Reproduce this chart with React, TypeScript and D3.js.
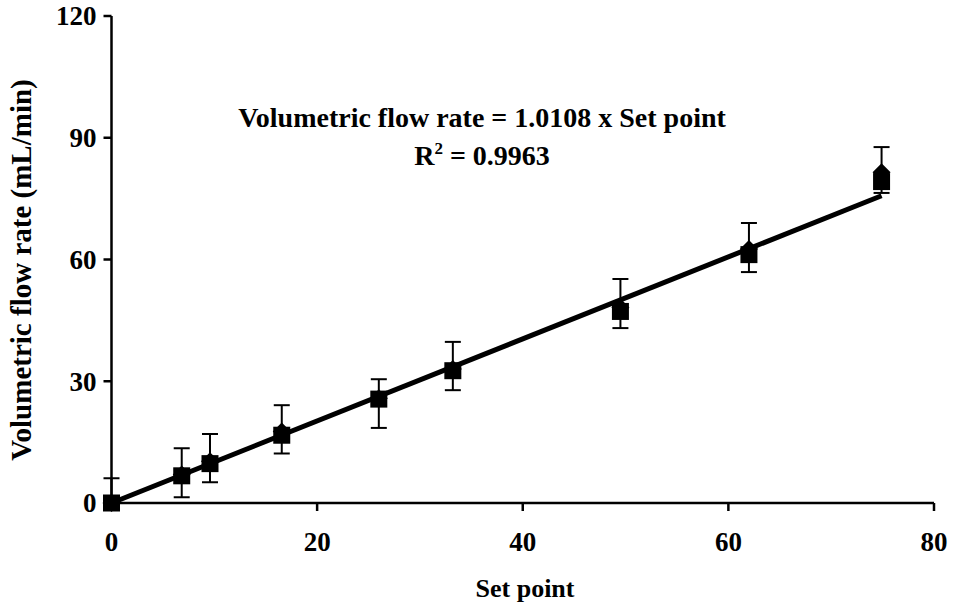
import React from "react";
import * as d3 from "d3";

const setPoints = [0, 6.83, 9.58, 16.56, 26.0, 33.2, 49.5, 62.0, 74.9];
const squareValues = [0, 6.7, 9.7, 16.7, 25.6, 32.6, 47.2, 61.2, 79.2];
const diamondValues = [0, 7.0, 10.3, 17.6, 25.8, 33.0, 48.2, 62.6, 81.5];
const errTop = [6.1, 13.5, 17.0, 24.1, 30.5, 39.7, 55.2, 69.0, 87.7];
const errBottom = [-6, 1.4, 5.1, 12.2, 18.5, 27.8, 43.1, 56.9, 76.4];
const slope = 1.0108;
const xTicks = [0, 20, 40, 60, 80];
const yTicks = [0, 30, 60, 90, 120];
const xTitle = "Set point";
const yTitle = "Volumetric flow rate (mL/min)";
const eqLine = "Volumetric flow rate = 1.0108 x Set point";
const r2Text = "0.9963";

const W = 953;
const H = 608;
const left = 111.5;
const right = 934;
const top = 16;
const bottom = 503;
const FONT = "'Liberation Serif', 'Times New Roman', serif";

export default function App() {
  const x = d3.scaleLinear().domain([0, 80]).range([left, right]);
  const y = d3.scaleLinear().domain([0, 120]).range([bottom, top]);
  const xMax = d3.max(setPoints) as number;
  const trend = d3.line<number>().x((d) => x(d)).y((d) => y(d * slope));
  const sq = 17;
  const dd = 9;
  const diamond = (cx: number, cy: number) =>
    `M${cx},${cy - dd}L${cx + dd},${cy}L${cx},${cy + dd}L${cx - dd},${cy}Z`;
  const cap = 8;

  return (
    <svg
      width={W}
      height={H}
      style={{ position: "absolute", left: 0, top: 0, background: "#fff" }}
      fontFamily={FONT}
      fontWeight="bold"
    >
      <defs>
        <clipPath id="plot">
          <rect x={left - 20} y={0} width={right - left + 40} height={bottom} />
        </clipPath>
      </defs>
      <rect width={W} height={H} fill="#fff" />
      <g clipPath="url(#plot)" stroke="#000" strokeWidth={2}>
        {setPoints.map((sp, i) => (
          <g key={i}>
            <line x1={x(sp)} x2={x(sp)} y1={y(errTop[i])} y2={y(errBottom[i])} />
            <line x1={x(sp) - cap} x2={x(sp) + cap} y1={y(errTop[i])} y2={y(errTop[i])} />
            <line x1={x(sp) - cap} x2={x(sp) + cap} y1={y(errBottom[i])} y2={y(errBottom[i])} />
          </g>
        ))}
      </g>
      {setPoints.map((sp, i) => (
        <path key={"d" + i} d={diamond(x(sp), y(diamondValues[i]))} fill="#000" />
      ))}
      {setPoints.map((sp, i) => (
        <rect
          key={"s" + i}
          x={x(sp) - sq / 2}
          y={y(squareValues[i]) - sq / 2}
          width={sq}
          height={sq}
          fill="#000"
        />
      ))}
      <path d={trend([0, xMax]) || ""} stroke="#000" strokeWidth={5} fill="none" />
      <g stroke="#000" strokeWidth={2.5}>
        <line x1={left} x2={left} y1={top} y2={bottom} />
        <line x1={left} x2={right} y1={bottom} y2={bottom} />
        {yTicks.map((t) => (
          <line key={"yt" + t} x1={left - 8} x2={left} y1={y(t)} y2={y(t)} />
        ))}
        {xTicks.map((t) => (
          <line key={"xt" + t} x1={x(t)} x2={x(t)} y1={bottom} y2={bottom + 8} />
        ))}
      </g>
      {yTicks.map((t) => (
        <text key={"yl" + t} x={left - 15} y={y(t)} dy="0.35em" textAnchor="end" fontSize={27}>
          {t}
        </text>
      ))}
      {xTicks.map((t) => (
        <text key={"xl" + t} x={x(t)} y={551} textAnchor="middle" fontSize={27}>
          {t}
        </text>
      ))}
      <text x={525} y={597} textAnchor="middle" fontSize={26}>
        {xTitle}
      </text>
      <text
        transform={`translate(31,270) rotate(-90)`}
        textAnchor="middle"
        fontSize={29}
      >
        {yTitle}
      </text>
      <text x={482} y={127} textAnchor="middle" fontSize={28}>
        {eqLine}
      </text>
      <text x={482} y={165} textAnchor="middle" fontSize={28}>
        R<tspan dy={-11} fontSize={17}>2</tspan>
        <tspan dy={11}>{" = " + r2Text}</tspan>
      </text>
    </svg>
  );
}
